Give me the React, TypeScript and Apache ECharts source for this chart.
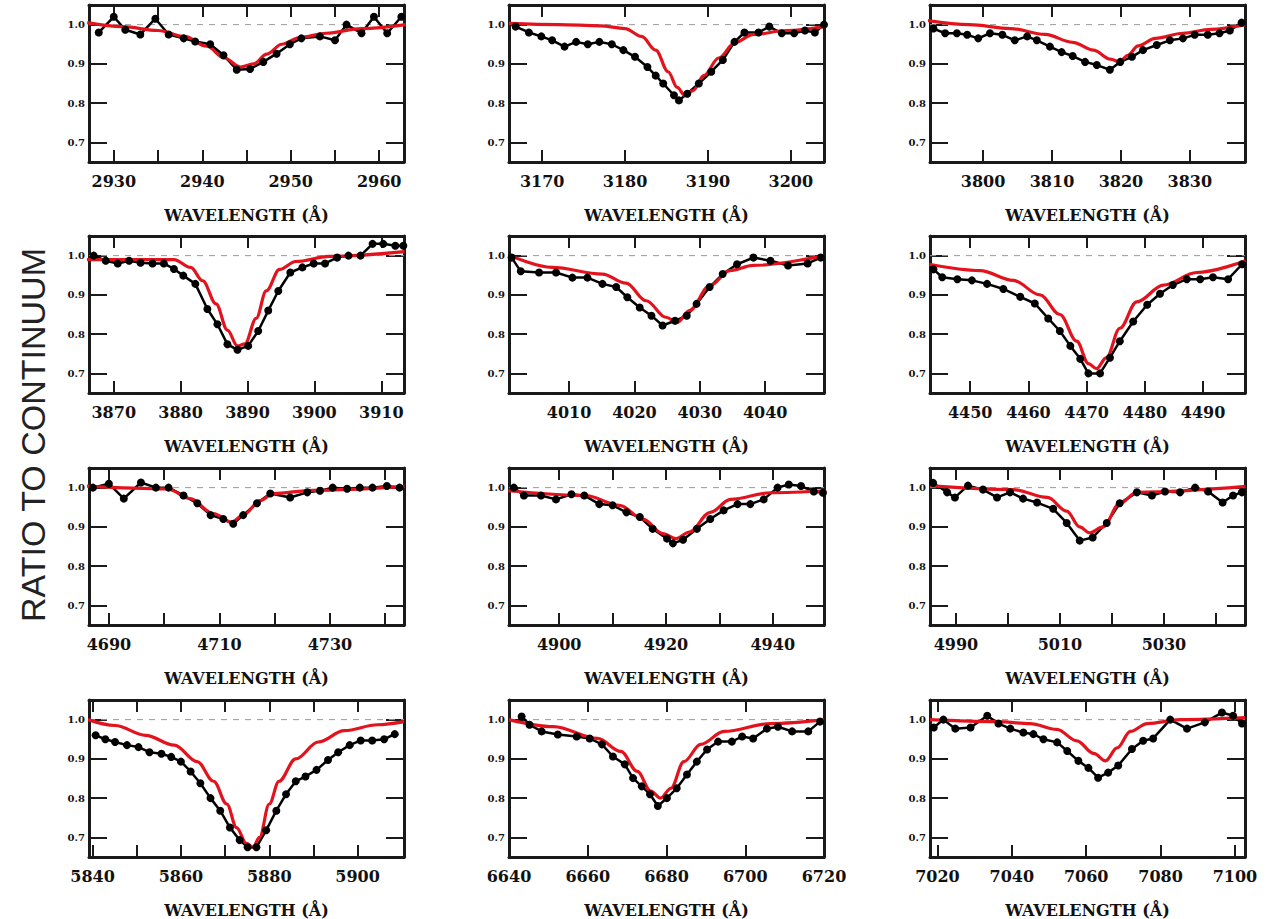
import React, { useEffect, useRef } from "react";
import * as echarts from "echarts";

// ---- axis ranges / ticks ----
const xRanges: number[][] = [
  [2927.2, 2962.8], [3166, 3204], [3792.3, 3838],
  [3866.3, 3913.4], [4000.8, 4049], [4443.1, 4497.2],
  [4686.4, 4743.4], [4890.6, 4949.6], [4985, 5045.6],
  [5839.2, 5910.5], [6640, 6720], [7018, 7102.7],
];
const xTicks: number[][] = [
  [2930, 2935, 2940, 2945, 2950, 2955, 2960], [3170, 3180, 3190, 3200], [3800, 3810, 3820, 3830],
  [3870, 3880, 3890, 3900, 3910], [4010, 4020, 4030, 4040], [4450, 4460, 4470, 4480, 4490],
  [4690, 4700, 4710, 4720, 4730, 4740], [4900, 4910, 4920, 4930, 4940], [4990, 5000, 5010, 5020, 5030, 5040],
  [5840, 5850, 5860, 5870, 5880, 5890, 5900], [6640, 6660, 6680, 6700, 6720], [7020, 7040, 7060, 7080, 7100],
];
const xLabels: number[][] = [
  [2930, 2940, 2950, 2960], [3170, 3180, 3190, 3200], [3800, 3810, 3820, 3830],
  [3870, 3880, 3890, 3900, 3910], [4010, 4020, 4030, 4040], [4450, 4460, 4470, 4480, 4490],
  [4690, 4710, 4730], [4900, 4920, 4940], [4990, 5010, 5030],
  [5840, 5860, 5880, 5900], [6640, 6660, 6680, 6700, 6720], [7020, 7040, 7060, 7080, 7100],
];
const yRange = [0.65, 1.05];
const yTicks = [0.7, 0.8, 0.9, 1.0];
const continuum = 1.0;
const errBar = 0.008;

// ---- observed data (wavelength, ratio) ----
const obs1 = [[2928.3,0.98],[2930.0,1.02],[2931.3,0.987],[2933.0,0.975],[2934.7,1.015],[2936.2,0.975],[2937.9,0.965],[2939.2,0.957],[2940.9,0.95],[2942.4,0.922],[2943.9,0.885],[2945.4,0.887],[2946.9,0.905],[2948.4,0.926],[2949.9,0.95],[2951.2,0.965],[2953.3,0.97],[2955.0,0.96],[2956.3,1.0],[2958.0,0.978],[2959.4,1.02],[2960.9,0.978],[2962.5,1.02]];
const obs2 = [[3166.8,0.995],[3168.4,0.98],[3169.9,0.97],[3171.2,0.96],[3172.7,0.944],[3174.1,0.956],[3175.5,0.95],[3176.9,0.956],[3178.4,0.95],[3179.8,0.935],[3181.2,0.918],[3182.7,0.892],[3183.7,0.87],[3184.6,0.85],[3185.9,0.82],[3186.5,0.807],[3187.5,0.824],[3188.9,0.85],[3190.4,0.88],[3191.8,0.91],[3193.2,0.956],[3194.4,0.98],[3196.1,0.98],[3197.4,0.995],[3198.9,0.978],[3200.4,0.978],[3201.7,0.985],[3202.9,0.98],[3204,1.0]];
const obs3 = [[3792.8,0.99],[3794.5,0.978],[3796.2,0.978],[3797.7,0.974],[3799.3,0.965],[3801.0,0.978],[3802.8,0.974],[3804.6,0.96],[3806.4,0.97],[3807.8,0.96],[3809.7,0.944],[3811.4,0.93],[3813.0,0.92],[3814.8,0.905],[3816.5,0.897],[3818.4,0.885],[3819.9,0.905],[3821.6,0.918],[3823.2,0.935],[3825.2,0.948],[3827.1,0.96],[3829.0,0.965],[3830.7,0.974],[3832.6,0.974],[3834.3,0.978],[3835.8,0.985],[3837.5,1.005]];
const obs4 = [[3867.0,1.0],[3868.8,0.987],[3870.6,0.98],[3872.3,0.987],[3874.0,0.982],[3875.8,0.98],[3877.5,0.98],[3879.0,0.966],[3880.4,0.949],[3882.2,0.928],[3884.0,0.864],[3885.5,0.825],[3887.0,0.774],[3888.5,0.76],[3890.1,0.77],[3891.6,0.808],[3893.1,0.86],[3894.6,0.91],[3896.4,0.957],[3898.2,0.97],[3899.9,0.98],[3901.6,0.98],[3903.4,0.995],[3905.1,1.0],[3906.9,1.0],[3908.7,1.03],[3910.3,1.03],[3912.1,1.025],[3913.3,1.025]];
const obs5 = [[4001.2,0.995],[4002.6,0.96],[4005.4,0.957],[4008.0,0.957],[4010.5,0.944],[4012.8,0.944],[4015.1,0.928],[4017.2,0.92],[4018.9,0.894],[4020.8,0.868],[4022.6,0.847],[4024.3,0.822],[4026.2,0.834],[4028.0,0.847],[4029.5,0.877],[4031.5,0.92],[4033.5,0.953],[4035.7,0.978],[4038.2,0.995],[4040.8,0.987],[4043.5,0.975],[4046.5,0.98],[4048.5,0.995]];
const obs6 = [[4443.7,0.965],[4445.2,0.945],[4447.8,0.94],[4450.3,0.937],[4452.9,0.928],[4455.7,0.915],[4458.6,0.895],[4461.1,0.878],[4463.4,0.84],[4465.4,0.808],[4467.2,0.77],[4468.9,0.737],[4470.3,0.7],[4472.3,0.7],[4474.0,0.74],[4475.7,0.782],[4478.0,0.832],[4480.4,0.875],[4482.6,0.903],[4484.8,0.925],[4487.2,0.94],[4489.5,0.94],[4491.7,0.945],[4494.3,0.94],[4496.7,0.978]];
const obs7 = [[4687.1,1.0],[4690.0,1.01],[4692.7,0.972],[4695.8,1.013],[4698.5,1.0],[4700.8,1.0],[4703.5,0.98],[4706.0,0.96],[4708.4,0.93],[4710.7,0.92],[4712.5,0.908],[4714.3,0.93],[4716.8,0.96],[4719.2,0.985],[4722.8,0.975],[4725.9,0.988],[4728.2,0.992],[4730.5,1.0],[4733.1,0.997],[4735.4,1.0],[4737.7,1.0],[4740.3,1.004],[4742.6,1.0]];
const obs8 = [[4891.5,1.0],[4893.4,0.98],[4896.6,0.98],[4899.4,0.97],[4902.3,0.983],[4904.7,0.98],[4907.5,0.958],[4910.0,0.955],[4912.6,0.937],[4915.1,0.925],[4917.5,0.895],[4920.2,0.87],[4921.3,0.858],[4923.2,0.867],[4925.8,0.895],[4928.3,0.92],[4930.8,0.942],[4933.4,0.958],[4935.8,0.958],[4938.3,0.97],[4940.9,1.0],[4943.0,1.008],[4945.3,1.004],[4947.7,0.99],[4949.4,0.987]];
const obs9 = [[4985.6,1.012],[4988.3,0.988],[4989.8,0.975],[4992.3,1.005],[4995.2,0.995],[4997.9,0.975],[5000.4,0.988],[5002.9,0.972],[5005.6,0.962],[5008.7,0.946],[5011.3,0.91],[5013.8,0.865],[5016.3,0.873],[5019.0,0.91],[5021.5,0.96],[5024.8,0.988],[5027.7,0.98],[5030.2,0.99],[5033.1,0.988],[5036.0,1.0],[5038.5,0.99],[5041.3,0.962],[5043.3,0.98],[5045.0,0.988]];
const obs10 = [[5840.7,0.96],[5842.9,0.95],[5845.1,0.943],[5847.8,0.935],[5850.4,0.93],[5852.9,0.917],[5855.6,0.913],[5857.8,0.905],[5860.0,0.893],[5862.2,0.868],[5864.4,0.838],[5866.7,0.8],[5868.9,0.768],[5871.1,0.725],[5873.3,0.693],[5875.1,0.675],[5877.1,0.675],[5879.3,0.718],[5881.6,0.768],[5883.8,0.81],[5886.0,0.843],[5888.2,0.855],[5890.7,0.872],[5893.3,0.897],[5895.6,0.917],[5898.2,0.935],[5900.7,0.947],[5903.3,0.947],[5906.0,0.95],[5908.4,0.963]];
const obs11 = [[6643.2,1.008],[6645.2,0.987],[6648.3,0.97],[6652.4,0.962],[6657.2,0.957],[6660.5,0.952],[6663.6,0.937],[6666.4,0.906],[6669.4,0.886],[6671.5,0.851],[6673.7,0.83],[6675.8,0.81],[6677.8,0.78],[6680.1,0.8],[6682.6,0.825],[6685.2,0.86],[6687.7,0.893],[6690.3,0.924],[6693.1,0.944],[6696.6,0.944],[6699.2,0.957],[6702.0,0.952],[6705.5,0.977],[6708.3,0.982],[6711.9,0.97],[6716.0,0.97],[6719.0,0.995]];
const obs12 = [[7019.0,0.98],[7021.6,1.0],[7024.8,0.977],[7028.9,0.98],[7033.4,1.01],[7036.4,0.99],[7039.6,0.977],[7043.1,0.967],[7045.8,0.963],[7048.5,0.95],[7052.2,0.942],[7054.9,0.92],[7057.9,0.895],[7060.6,0.877],[7063.2,0.852],[7065.9,0.865],[7068.6,0.883],[7072.3,0.925],[7075.3,0.946],[7078.0,0.952],[7082.6,1.0],[7087.1,0.977],[7091.9,0.993],[7096.5,1.018],[7099.5,1.01],[7101.9,0.99]];

// ---- model profiles (wavelength, ratio) ----
const model1 = [[2927,1.005],[2931,0.995],[2935,0.985],[2938,0.97],[2940.5,0.945],[2942.5,0.915],[2944.3,0.892],[2945.8,0.9],[2947.3,0.925],[2949,0.95],[2951,0.967],[2954,0.978],[2958,0.99],[2963,1.0]];
const model2 = [[3166,1.003],[3172,1.0],[3177,0.997],[3180,0.99],[3182,0.97],[3183.7,0.935],[3185.2,0.88],[3186.3,0.84],[3187.2,0.82],[3188.2,0.832],[3189.5,0.87],[3191.3,0.915],[3193.3,0.955],[3195.5,0.975],[3199.5,0.985],[3204,0.995]];
const model3 = [[3792,1.01],[3798,1.0],[3804,0.99],[3809,0.975],[3813,0.955],[3816,0.935],[3818.5,0.912],[3819.8,0.905],[3821,0.922],[3822.5,0.946],[3825,0.965],[3829,0.978],[3833,0.988],[3838,1.0]];
const model4 = [[3866,0.99],[3879,0.99],[3881.5,0.97],[3883.3,0.936],[3885.3,0.877],[3887,0.81],[3888.5,0.77],[3889.6,0.775],[3891.3,0.84],[3892.8,0.91],[3894.8,0.965],[3897.2,0.985],[3902.2,0.998],[3913.5,1.01]];
const model5 = [[4001,1.0],[4007.4,0.97],[4015.1,0.953],[4018.7,0.93],[4021.8,0.885],[4024.8,0.843],[4026.6,0.83],[4028.4,0.86],[4031.5,0.923],[4034.6,0.962],[4038.2,0.975],[4049,1.0]];
const model6 = [[4443,0.978],[4451.7,0.962],[4457.4,0.937],[4462,0.9],[4465.4,0.85],[4468.3,0.782],[4470.3,0.725],[4471.7,0.712],[4473.4,0.74],[4475.7,0.815],[4478.6,0.882],[4483.2,0.925],[4488.9,0.957],[4497.3,0.987]];
const model7 = [[4686,1.004],[4700.6,0.997],[4704.7,0.972],[4708.9,0.934],[4712.2,0.912],[4714.3,0.93],[4717.4,0.967],[4719.7,0.985],[4726.9,0.993],[4743.5,1.003]];
const model8 = [[4890.5,0.992],[4904.9,0.98],[4911.3,0.955],[4915.7,0.92],[4919.4,0.883],[4921.9,0.87],[4924.4,0.887],[4928.3,0.937],[4932.1,0.97],[4939.6,0.987],[4950,0.992]];
const model9 = [[4985,1.005],[5001,0.995],[5007.6,0.975],[5011.3,0.94],[5013.8,0.9],[5015.7,0.885],[5018.3,0.9],[5021.5,0.96],[5024.8,0.988],[5045.7,1.003]];
const model10 = [[5839,1.0],[5845.1,0.985],[5852,0.96],[5858.5,0.935],[5863.7,0.893],[5867.4,0.843],[5870.4,0.785],[5872.6,0.725],[5874.8,0.685],[5876.3,0.675],[5877.8,0.7],[5880,0.785],[5882.2,0.843],[5886,0.9],[5891.1,0.943],[5897,0.972],[5904.5,0.987],[5910.5,0.995]];
const model11 = [[6640,1.0],[6651.3,0.982],[6662.5,0.952],[6668.4,0.919],[6672.6,0.868],[6676,0.818],[6678.5,0.8],[6681.1,0.825],[6684.4,0.893],[6688.7,0.937],[6694.6,0.97],[6706.5,0.99],[6720,1.0]];
const model12 = [[7018,1.0],[7036,0.995],[7044.9,0.99],[7052.1,0.975],[7057.5,0.946],[7062,0.914],[7065.2,0.895],[7068.3,0.928],[7071.9,0.97],[7076.4,0.99],[7085.3,1.0],[7102.7,1.005]];

const observed = [obs1, obs2, obs3, obs4, obs5, obs6, obs7, obs8, obs9, obs10, obs11, obs12];
const models = [model1, model2, model3, model4, model5, model6, model7, model8, model9, model10, model11, model12];

const xTitle = "WAVELENGTH (Å)";
const yTitle = "RATIO TO CONTINUUM";

const colLefts = [89, 509, 930];
const rowTops = [5, 236, 468, 700];
const gridW = 315;
const gridH = 157;
const frameColor = "#1a1a1a";
const redColor = "#e3131d";
const tickFont = "DejaVu Serif";

function buildOption() {
  const grid: any[] = [];
  const xAxis: any[] = [];
  const yAxis: any[] = [];
  const series: any[] = [];
  for (let i = 0; i < 12; i++) {
    const r = Math.floor(i / 3);
    const c = i % 3;
    grid.push({ left: colLefts[c], top: rowTops[r], width: gridW, height: gridH, show: false });
    const [xmin, xmax] = xRanges[i];
    const line = { show: true, onZero: false, lineStyle: { color: frameColor, width: 3 } };
    xAxis.push({
      type: "value", gridIndex: i, position: "bottom", min: xmin, max: xmax,
      name: xTitle, nameLocation: "middle", nameGap: 45,
      nameTextStyle: { fontFamily: tickFont, fontWeight: "bold", fontSize: 16, color: "#111" },
      axisLine: line,
      axisTick: { show: true, inside: true, length: 12, customValues: xTicks[i], lineStyle: { color: frameColor, width: 2 } },
      axisLabel: { show: true, customValues: xLabels[i], margin: 11, fontFamily: tickFont, fontWeight: "bold", fontSize: 16, color: "#111", formatter: (v: number) => String(Math.round(v)) },
      splitLine: { show: false },
    });
    xAxis.push({
      type: "value", gridIndex: i, position: "top", min: xmin, max: xmax,
      axisLine: line,
      axisTick: { show: true, inside: true, length: 12, customValues: xTicks[i], lineStyle: { color: frameColor, width: 2 } },
      axisLabel: { show: false },
      splitLine: { show: false },
    });
    yAxis.push({
      type: "value", gridIndex: i, position: "left", min: yRange[0], max: yRange[1],
      axisLine: line,
      axisTick: { show: true, inside: true, length: 18, customValues: yTicks, lineStyle: { color: frameColor, width: 2 } },
      axisLabel: { show: true, customValues: yTicks, margin: 4, fontFamily: tickFont, fontWeight: "bold", fontSize: 10, color: "#111", formatter: (v: number) => v.toFixed(1) },
      splitLine: { show: false },
    });
    yAxis.push({
      type: "value", gridIndex: i, position: "right", min: yRange[0], max: yRange[1],
      axisLine: line,
      axisTick: { show: true, inside: true, length: 18, customValues: yTicks, lineStyle: { color: frameColor, width: 2 } },
      axisLabel: { show: false },
      splitLine: { show: false },
    });
    const xi = 2 * i;
    const yi = 2 * i;
    series.push({
      type: "line", xAxisIndex: xi, yAxisIndex: yi, silent: true,
      data: [[xmin, continuum], [xmax, continuum]], symbol: "none",
      lineStyle: { color: "#9a9a9a", width: 1, type: [6, 6] },
    });
    series.push({
      type: "custom", xAxisIndex: xi, yAxisIndex: yi, silent: true, clip: true,
      data: observed[i], encode: { x: 0, y: 1 },
      renderItem: (_p: any, api: any) => {
        const x = api.value(0);
        const y = api.value(1);
        const a = api.coord([x, y - errBar]);
        const b = api.coord([x, y + errBar]);
        return { type: "line", shape: { x1: a[0], y1: a[1], x2: b[0], y2: b[1] }, style: { stroke: "#000", lineWidth: 1.6 } };
      },
    });
    series.push({
      type: "line", xAxisIndex: xi, yAxisIndex: yi, silent: true, clip: true,
      data: observed[i], symbol: "circle", symbolSize: 8,
      itemStyle: { color: "#000" }, lineStyle: { color: "#000", width: 2.5 },
    });
    series.push({
      type: "line", xAxisIndex: xi, yAxisIndex: yi, silent: true, clip: true,
      data: models[i], symbol: "none", smooth: 0.35, smoothMonotone: "x",
      lineStyle: { color: redColor, width: 3.2 },
    });
  }
  return {
    animation: false,
    backgroundColor: "#ffffff",
    grid, xAxis, yAxis, series,
    graphic: [
      {
        type: "text", x: 33, y: 435, rotation: Math.PI / 2,
        style: { text: yTitle, fontFamily: "Liberation Sans", fontSize: 34, fill: "#222", textAlign: "center", textVerticalAlign: "middle" },
      },
    ],
  };
}

export default function App() {
  const ref = useRef<HTMLDivElement>(null);
  useEffect(() => {
    if (!ref.current) return;
    const chart = echarts.init(ref.current, undefined, { renderer: "svg" });
    chart.setOption(buildOption() as any);
    return () => chart.dispose();
  }, []);
  return <div ref={ref} style={{ position: "absolute", left: 0, top: 0, width: 1274, height: 919 }} />;
}
